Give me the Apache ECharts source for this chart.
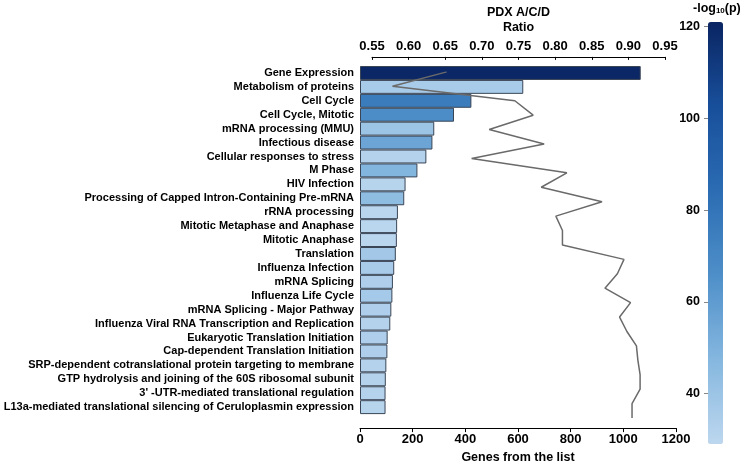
<!DOCTYPE html>
<html>
<head>
<meta charset="utf-8">
<script src="https://cdn.jsdelivr.net/npm/echarts@6/dist/echarts.min.js"></script>
<style>html,body{margin:0;padding:0;background:#fff}#c{width:740px;height:469px}</style>
</head>
<body>
<div id="c"></div>
<script>
const categories = [
  'Gene Expression',
  'Metabolism of proteins',
  'Cell Cycle',
  'Cell Cycle, Mitotic',
  'mRNA processing (MMU)',
  'Infectious disease',
  'Cellular responses to stress',
  'M Phase',
  'HIV Infection',
  'Processing of Capped Intron-Containing Pre-mRNA',
  'rRNA processing',
  'Mitotic Metaphase and Anaphase',
  'Mitotic Anaphase',
  'Translation',
  'Influenza Infection',
  'mRNA Splicing',
  'Influenza Life Cycle',
  'mRNA Splicing - Major Pathway',
  'Influenza Viral RNA Transcription and Replication',
  'Eukaryotic Translation Initiation',
  'Cap-dependent Translation Initiation',
  'SRP-dependent cotranslational protein targeting to membrane',
  'GTP hydrolysis and joining of the 60S ribosomal subunit',
  "3' -UTR-mediated translational regulation",
  'L13a-mediated translational silencing of Ceruloplasmin expression'
];
const genes = [1066, 620, 423, 357, 282, 275, 252, 218, 173, 168, 144, 141, 140, 136, 130, 125, 123, 119, 115, 105, 104, 100, 98, 97, 97];
const logP = [120, 36, 76, 67, 40, 56, 32, 48, 31, 44, 30, 30, 30, 38, 36, 34, 37, 34, 32, 34, 34, 32, 32, 32, 31];
const ratio = [0.652, 0.578, 0.745, 0.770, 0.710, 0.785, 0.686, 0.816, 0.781, 0.864, 0.801, 0.810, 0.810,
  0.894, 0.885, 0.868, 0.903, 0.888, 0.898, 0.911, 0.913, 0.916, 0.916, 0.905, 0.905];
const colorTicks = [40, 60, 80, 100, 120];

const FONT = 'Liberation Sans, Arial, sans-serif';
const chart = echarts.init(document.getElementById('c'), null, {renderer: 'canvas'});
const barData = categories.map((c, i) => [genes[i], c, logP[i]]);

chart.setOption({
  animation: false,
  textStyle: {fontFamily: FONT},
  title: {
    text: '{a|-log}{s|10}{a|(p)}',
    left: 693, top: 2, padding: 0,
    textStyle: {
      rich: {
        a: {fontFamily: FONT, fontWeight: 'bold', fontSize: 12.5, color: '#000'},
        s: {fontFamily: FONT, fontWeight: 'bold', fontSize: 8, color: '#000', padding: [5, 0, 0, 0]}
      }
    }
  },
  grid: [
    {left: 360, width: 316, top: 66, height: 352},
    {left: 372, width: 293, top: 66, height: 352},
    {left: 708, width: 15, top: 22, height: 422}
  ],
  visualMap: {
    type: 'continuous',
    seriesIndex: 0,
    dimension: 2,
    min: 29, max: 121,
    calculable: false,
    orient: 'vertical',
    left: 708, top: 22,
    itemWidth: 15, itemHeight: 422,
    padding: 0,
    inRange: {color: ['#bdd7ef', '#85b7df', '#4e8fc9', '#2b6cb3', '#184f9b', '#0a2562']}
  },
  xAxis: [
    {
      type: 'value', gridIndex: 0, min: 0, max: 1200, interval: 200,
      position: 'bottom', offset: 14,
      name: 'Genes from the list', nameLocation: 'middle', nameGap: 16,
      nameTextStyle: {fontFamily: FONT, fontWeight: 'bold', fontSize: 12.5, color: '#000'},
      axisLine: {show: true, lineStyle: {color: '#000', width: 1}},
      axisTick: {show: true, length: 4, lineStyle: {color: '#000'}},
      axisLabel: {margin: 5, fontFamily: FONT, fontWeight: 'bold', fontSize: 13, color: '#000',
        formatter: v => String(v)},
      splitLine: {show: false}
    },
    {
      type: 'value', gridIndex: 1, min: 0.55, max: 0.95, interval: 0.05,
      position: 'top', offset: 15,
      name: 'PDX A/C/D\nRatio', nameLocation: 'middle', nameGap: 20,
      nameTextStyle: {fontFamily: FONT, fontWeight: 'bold', fontSize: 12.5, color: '#000', lineHeight: 15},
      axisLine: {show: true, lineStyle: {color: '#000', width: 1}},
      axisTick: {show: true, inside: true, length: 3, lineStyle: {color: '#000'}},
      axisLabel: {margin: 4, fontFamily: FONT, fontWeight: 'bold', fontSize: 13, color: '#000',
        formatter: v => v.toFixed(2)},
      splitLine: {show: false}
    },
    {type: 'value', gridIndex: 2, show: false, min: 0, max: 1}
  ],
  yAxis: [
    {
      type: 'category', gridIndex: 0, data: categories, inverse: true,
      axisLine: {show: false}, axisTick: {show: false},
      axisLabel: {margin: 6, fontFamily: FONT, fontWeight: 'bold', fontSize: 11, color: '#000', interval: 0}
    },
    {
      type: 'category', gridIndex: 1, data: categories, inverse: true, boundaryGap: false, show: false
    },
    {
      type: 'value', gridIndex: 2, min: 29, max: 121, position: 'left',
      axisLine: {show: false},
      axisTick: {show: true, length: 4, customValues: colorTicks, lineStyle: {color: '#888'}},
      axisLabel: {margin: 8, customValues: colorTicks, fontFamily: FONT, fontWeight: 'bold', fontSize: 12.5, color: '#000'},
      splitLine: {show: false}
    }
  ],
  series: [
    {
      type: 'bar', xAxisIndex: 0, yAxisIndex: 0,
      data: barData,
      encode: {x: 0, y: 1},
      barCategoryGap: '0%',
      itemStyle: {borderColor: '#3a4656', borderWidth: 1}
    },
    {
      type: 'line', xAxisIndex: 1, yAxisIndex: 1,
      data: ratio.map((r, i) => [r, categories[i]]),
      symbol: 'none',
      lineStyle: {color: '#6a6a6a', width: 1.5},
      z: 5
    }
  ]
});
</script>
</body>
</html>
